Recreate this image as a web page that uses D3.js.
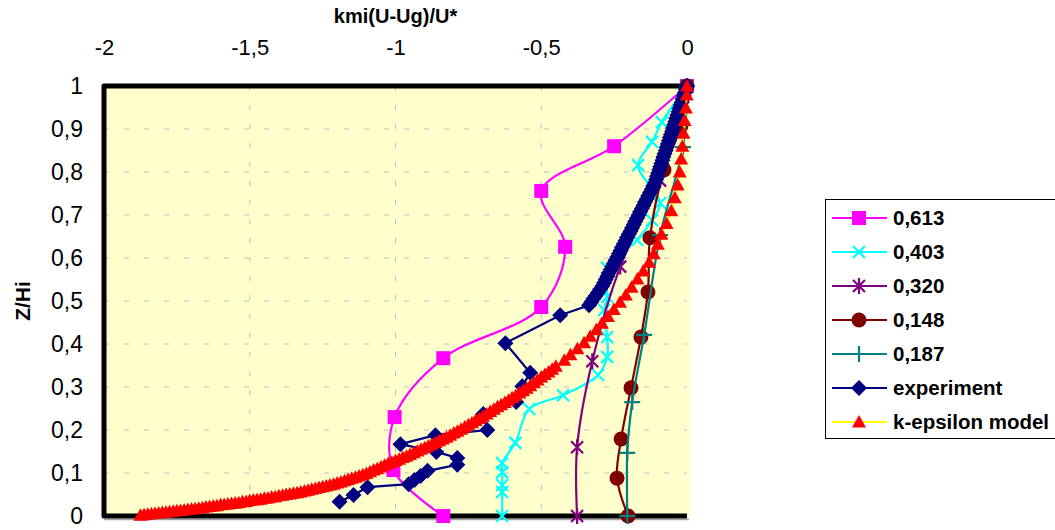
<!doctype html>
<html>
<head>
<meta charset="utf-8" />
<title>kmi(U-Ug)/U* profiles</title>
<script src="https://cdn.jsdelivr.net/npm/d3@7"></script>
<style>
  body { margin: 0; background: #fff; }
  text { font-family: Arial, "Liberation Sans", sans-serif; }
</style>
</head>
<body>
<svg id="chart" width="1055" height="530"></svg>
<script>
// ---- data: [x = kmi(U-Ug)/U*, z = Z/Hi] ----
var xTicks = [-2, -1.5, -1, -0.5, 0];
var yTicks = [0, 0.1, 0.2, 0.3, 0.4, 0.5, 0.6, 0.7, 0.8, 0.9, 1];

var s613 = [[0,1],[-0.25,0.86],[-0.5,0.756],[-0.418,0.626],[-0.5,0.486],[-0.836,0.367],
            [-1.003,0.23],[-1.007,0.107],[-0.836,0]];

var s403 = [[0,1],[-0.086,0.916],[-0.12,0.87],[-0.168,0.816],[-0.092,0.728],[-0.12,0.688],
            [-0.171,0.642],[-0.274,0.577],[-0.274,0.51],[-0.284,0.479],[-0.274,0.416],
            [-0.274,0.37],[-0.305,0.328],[-0.425,0.281],[-0.541,0.249],[-0.589,0.17],
            [-0.634,0.123],[-0.634,0.102],[-0.634,0.072],[-0.634,0.056],[-0.634,0]];

var s320 = [[0,1],[-0.092,0.78],[-0.229,0.58],[-0.325,0.36],[-0.377,0.16],[-0.377,0]];

var s148 = [[0,1],[-0.021,0.907],[-0.079,0.805],[-0.127,0.647],[-0.134,0.521],[-0.158,0.416],
            [-0.192,0.298],[-0.226,0.179],[-0.24,0.088],[-0.202,0]];

var s187 = [[0,1],[-0.014,0.858],[-0.092,0.653],[-0.147,0.421],[-0.188,0.265],[-0.205,0.147],[-0.205,0]];

// measured profile: dense upper part, then the scattered lower points
var experimentUpper = [[0,1],[-0.004,0.9925],[-0.007,0.985],[-0.011,0.9775],[-0.015,0.97],
  [-0.018,0.9625],[-0.022,0.955],[-0.026,0.9475],[-0.029,0.94],[-0.033,0.9325],[-0.037,0.925],
  [-0.04,0.9175],[-0.044,0.91],[-0.048,0.9025],[-0.051,0.895],[-0.055,0.8875],[-0.059,0.88],
  [-0.062,0.8725],[-0.066,0.865],[-0.07,0.8575],[-0.073,0.85],[-0.077,0.8425],[-0.081,0.835],
  [-0.084,0.8275],[-0.088,0.82],[-0.092,0.8125],[-0.095,0.805],[-0.099,0.7975],[-0.103,0.79],
  [-0.106,0.7825],[-0.11,0.775],[-0.116,0.7675],[-0.121,0.76],[-0.127,0.7525],[-0.133,0.745],
  [-0.138,0.7375],[-0.144,0.73],[-0.149,0.7225],[-0.155,0.715],[-0.161,0.7075],[-0.166,0.7],
  [-0.172,0.6925],[-0.178,0.685],[-0.183,0.6775],[-0.189,0.67],[-0.194,0.6625],[-0.2,0.655],
  [-0.206,0.6475],[-0.211,0.64],[-0.217,0.6325],[-0.223,0.625],[-0.228,0.6175],[-0.234,0.61],
  [-0.239,0.6025],[-0.245,0.595],[-0.251,0.5875],[-0.256,0.58],[-0.262,0.5725],[-0.268,0.565],
  [-0.273,0.5575],[-0.279,0.55],[-0.284,0.5425],[-0.29,0.535],[-0.298,0.5275],[-0.305,0.52],
  [-0.313,0.5125],[-0.321,0.505],[-0.328,0.4975],[-0.336,0.49]];
var experimentLower = [[-0.435,0.467],[-0.623,0.402],[-0.538,0.333],[-0.565,0.302],[-0.586,0.265],
  [-0.699,0.237],[-0.685,0.2],[-0.863,0.188],[-0.983,0.167],[-0.86,0.149],[-0.788,0.135],
  [-0.788,0.119],[-0.89,0.105],[-0.914,0.093],[-0.935,0.084],[-0.955,0.074],[-1.096,0.067],
  [-1.144,0.049],[-1.192,0.033]];

// k-epsilon model profile (read in passes, merged and ordered below)
var kEpsilonA = [[0,1],[-0.001,0.979],[-0.004,0.949],[-0.008,0.92],[-0.012,0.89],[-0.016,0.86],
  [-0.02,0.83],[-0.025,0.8],[-0.032,0.77],[-0.042,0.74],[-0.054,0.71],[-0.07,0.68],
  [-0.088,0.655],[-0.1,0.632],[-0.114,0.61],[-0.13,0.59],[-0.15,0.57],[-0.17,0.551],
  [-0.19,0.532],[-0.21,0.514],[-0.23,0.497],[-0.251,0.48],[-0.271,0.464],[-0.292,0.448],
  [-0.311,0.433],[-0.332,0.418],[-0.353,0.403],[-0.376,0.389],[-0.4,0.375],[-0.421,0.362],
  [-0.45,0.348],[-0.475,0.335],[-0.5,0.323],[-0.525,0.31],[-0.55,0.297],[-0.575,0.286],
  [-0.6,0.275],[-0.625,0.264],[-0.65,0.254],[-0.675,0.243],[-0.7,0.232],[-0.725,0.222],
  [-0.75,0.212],[-0.775,0.202],[-0.8,0.193],[-0.825,0.183],[-0.85,0.175],[-0.875,0.167],
  [-0.9,0.159],[-0.925,0.151],[-0.95,0.143],[-0.975,0.136],[-1,0.129],[-1.025,0.122],
  [-1.05,0.114],[-1.075,0.107],[-1.1,0.099],[-1.125,0.093],[-1.15,0.088],[-1.175,0.082],
  [-1.2,0.077],[-1.225,0.072],[-1.25,0.068],[-1.275,0.064],[-1.3,0.06],[-1.325,0.056],
  [-1.35,0.053],[-1.375,0.05],[-1.4,0.047],[-1.425,0.044],[-1.45,0.041],[-1.475,0.038],
  [-1.5,0.036],[-1.525,0.033],[-1.55,0.03],[-1.575,0.028],[-1.6,0.026],[-1.625,0.023],
  [-1.65,0.021],[-1.675,0.018],[-1.7,0.016],[-1.725,0.014],[-1.75,0.012],[-1.775,0.01],
  [-1.8,0.008],[-1.825,0.006],[-1.85,0.004],[-1.875,0.002]];
var kEpsilonB = [[-0.4625,0.341],[-0.4875,0.329],[-0.5125,0.316],[-0.5375,0.303],[-0.5625,0.291],
  [-0.5875,0.28],[-0.6125,0.269],[-0.6375,0.259],[-0.6625,0.248],[-0.6875,0.237],[-0.7125,0.227],
  [-0.7375,0.217],[-0.7625,0.207],[-0.7875,0.197],[-0.8125,0.188],[-0.8375,0.179],[-0.8625,0.171],
  [-0.8875,0.163],[-0.9125,0.155],[-0.9375,0.147],[-0.9625,0.139],[-0.9875,0.132],
  [-1.0125,0.125],[-1.0375,0.118],[-1.0625,0.11],[-1.0875,0.103],[-1.1125,0.096],
  [-1.1375,0.09],[-1.1625,0.085],[-1.1875,0.079],[-1.2125,0.074],[-1.2375,0.07],[-1.2625,0.066],
  [-1.2875,0.062],[-1.3125,0.058],[-1.3375,0.054],[-1.3625,0.051],[-1.3875,0.048],[-1.4125,0.045],
  [-1.4375,0.042],[-1.4625,0.039],[-1.4875,0.037],[-1.5125,0.034],[-1.5375,0.031],[-1.5625,0.029],
  [-1.5875,0.027],[-1.6125,0.024],[-1.6375,0.022],[-1.6625,0.019],[-1.6875,0.017],[-1.7125,0.015],
  [-1.7375,0.013],[-1.7625,0.011],[-1.7875,0.009],[-1.8125,0.007],[-1.8375,0.005],[-1.8625,0.003]];

var seriesNames = ["0,613", "0,403", "0,320", "0,148", "0,187", "experiment", "k-epsilon model"];

var experiment = experimentUpper.concat(experimentLower);
var kEpsilon = kEpsilonA.concat(kEpsilonB).sort(function(a, b) { return b[0] - a[0]; });

var series = [
  {name: seriesNames[0], data: s613, line: "#ff00ff", mark: "#ff00ff", shape: "square", smooth: true},
  {name: seriesNames[1], data: s403, line: "#00ffff", mark: "#00ffff", shape: "cross", smooth: true},
  {name: seriesNames[2], data: s320, line: "#800080", mark: "#800080", shape: "star", smooth: true},
  {name: seriesNames[3], data: s148, line: "#800000", mark: "#800000", shape: "circle", smooth: true},
  {name: seriesNames[4], data: s187, line: "#008080", mark: "#008080", shape: "plus", smooth: true},
  {name: seriesNames[5], data: experiment, line: "#000080", mark: "#000080", shape: "diamond", smooth: false},
  {name: seriesNames[6], data: kEpsilon, line: "#ffff00", mark: "#ff0000", shape: "triangle", smooth: false}
];

// ---- layout ----
var svg = d3.select("#chart");
var plotL = 104, plotR = 687, plotT = 86, plotB = 516;

var x = d3.scaleLinear().domain([-2, 0]).range([plotL, plotR]);
var y = d3.scaleLinear().domain([0, 1]).range([plotB, plotT]);

var loc = d3.formatLocale({decimal: ",", thousands: " ", grouping: [3], currency: ["", ""], minus: "-"});
var fmt = loc.format("~g");

// plot background
svg.append("rect")
    .attr("x", plotL).attr("y", plotT)
    .attr("width", plotR - plotL + 3).attr("height", plotB - plotT)
    .attr("fill", "#ffffcc");

// grid
svg.append("g").selectAll("line")
    .data(yTicks.slice(1, -1))
    .enter().append("line")
    .attr("x1", plotL).attr("x2", plotR)
    .attr("y1", function(d) { return y(d); })
    .attr("y2", function(d) { return y(d); })
    .attr("stroke", "#c0c0c0").attr("stroke-width", 1)
    .attr("stroke-dasharray", "5,15");

svg.append("g").selectAll("line")
    .data(xTicks.slice(1, -1))
    .enter().append("line")
    .attr("x1", function(d) { return x(d); })
    .attr("x2", function(d) { return x(d); })
    .attr("y1", plotT).attr("y2", plotB)
    .attr("stroke", "#c0c0c0").attr("stroke-width", 1)
    .attr("stroke-dasharray", "5,14");

// frame: thick top, left and bottom
svg.append("line")
    .attr("x1", plotL).attr("x2", plotR + 2)
    .attr("y1", plotB + 3.5).attr("y2", plotB + 3.5)
    .attr("stroke", "#a0a0a0").attr("stroke-width", 1.5);
svg.append("path")
    .attr("d", "M" + plotR + "," + plotT + "H" + plotL + "V" + plotB + "H" + plotR)
    .attr("fill", "none").attr("stroke", "#000").attr("stroke-width", 5)
    .attr("stroke-linejoin", "round");

// axes
var xAxis = svg.append("g")
    .attr("transform", "translate(0," + plotT + ")")
    .call(d3.axisTop(x).tickValues(xTicks).tickFormat(fmt).tickSize(0).tickPadding(31));
var yAxis = svg.append("g")
    .attr("transform", "translate(" + plotL + ",0)")
    .call(d3.axisLeft(y).tickValues(yTicks).tickFormat(fmt).tickSize(0).tickPadding(21));
xAxis.select(".domain").remove();
yAxis.select(".domain").remove();
xAxis.selectAll("text").attr("fill", "#000").style("font-size", "22px");
yAxis.selectAll("text").attr("fill", "#000").style("font-size", "23px");

// axis titles
svg.append("text")
    .attr("x", (plotL + plotR) / 2).attr("y", 23)
    .attr("text-anchor", "middle")
    .style("font-size", "20px").style("font-weight", "bold")
    .text("kmi(U-Ug)/U*");

svg.append("text")
    .attr("transform", "translate(30," + (plotT + plotB) / 2 + ") rotate(-90)")
    .attr("text-anchor", "middle")
    .style("font-size", "21px").style("font-weight", "bold")
    .text("Z/Hi");

// markers
function drawMarker(g, shape, color) {
  if (shape === "square") {
    g.append("rect").attr("x", -7).attr("y", -7).attr("width", 14).attr("height", 14).attr("fill", color);
  } else if (shape === "cross") {
    g.append("path").attr("d", "M-6,-6L6,6M-6,6L6,-6").attr("stroke", color).attr("stroke-width", 2.2).attr("fill", "none");
  } else if (shape === "star") {
    g.append("path").attr("d", "M-6,-6L6,6M-6,6L6,-6M0,-8V8").attr("stroke", color).attr("stroke-width", 2.2).attr("fill", "none");
  } else if (shape === "circle") {
    g.append("circle").attr("r", 7.5).attr("fill", color);
  } else if (shape === "plus") {
    g.append("path").attr("d", "M-8,0H8M0,-8V8").attr("stroke", color).attr("stroke-width", 2.2).attr("fill", "none");
  } else if (shape === "diamond") {
    g.append("path").attr("d", "M0,-8L8,0L0,8L-8,0Z").attr("fill", color);
  } else if (shape === "triangle") {
    g.append("path").attr("d", "M0,-7L7,5.5L-7,5.5Z").attr("fill", color);
  }
}

var line = d3.line()
    .x(function(d) { return x(d[0]); })
    .y(function(d) { return y(d[1]); });

series.forEach(function(s) {
  var g = svg.append("g");
  g.append("path")
      .datum(s.data)
      .attr("d", line.curve(s.smooth ? d3.curveCatmullRom : d3.curveLinear))
      .attr("fill", "none")
      .attr("stroke", s.line)
      .attr("stroke-width", 2.2);
  g.selectAll("g")
      .data(s.data)
      .enter().append("g")
      .attr("transform", function(d) { return "translate(" + x(d[0]) + "," + y(d[1]) + ")"; })
      .each(function() { drawMarker(d3.select(this), s.shape, s.mark); });
});

// legend
var lg = svg.append("g");
lg.append("rect")
    .attr("x", 825.5).attr("y", 199.5)
    .attr("width", 240).attr("height", 239)
    .attr("fill", "#fff").attr("stroke", "#000").attr("stroke-width", 1);

var rows = lg.selectAll("g.row")
    .data(series)
    .enter().append("g")
    .attr("class", "row")
    .attr("transform", function(d, i) { return "translate(0," + (218 + i * 34) + ")"; });

rows.append("line")
    .attr("x1", 832).attr("x2", 887)
    .attr("stroke", function(d) { return d.line; })
    .attr("stroke-width", 2.2);
rows.append("g")
    .attr("transform", "translate(859,0)")
    .each(function(d) { drawMarker(d3.select(this), d.shape, d.mark); });
rows.append("text")
    .attr("x", 893).attr("dy", "0.36em")
    .style("font-size", "20.5px").style("font-weight", "bold")
    .text(function(d) { return d.name; });
</script>
</body>
</html>
